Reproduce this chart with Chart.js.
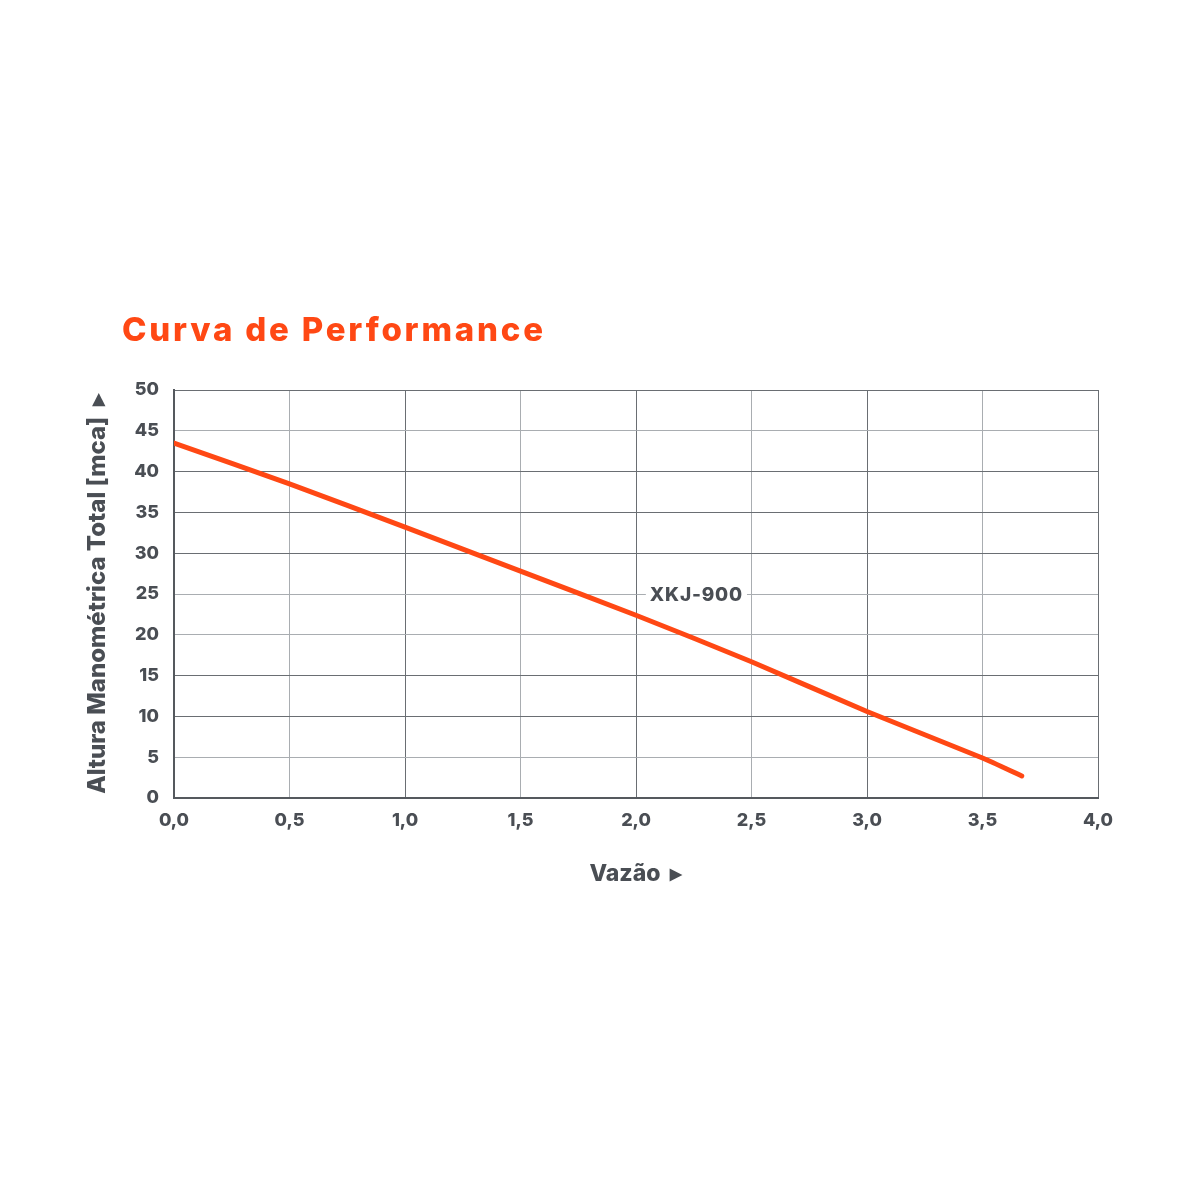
<!DOCTYPE html>
<html>
<head>
<meta charset="utf-8">
<script src="https://cdn.jsdelivr.net/npm/chart.js@4/dist/chart.umd.min.js"></script>
<style>
  html, body { margin: 0; padding: 0; background: #fff; }
  #wrap { width: 1200px; height: 1200px; }
</style>
</head>
<body>
<div id="wrap"><canvas id="curveChart" width="1200" height="1200"></canvas></div>
<script>
// ===================
// Data
// ===================
const flowValues = [0, 0.5, 1.0, 1.5, 2.0, 2.5, 3.0, 3.5, 3.67];
const headValues = [43.5, 38.5, 33.2, 27.8, 22.4, 16.7, 10.6, 4.9, 2.7];
const seriesName = 'XKJ-900';
const labelAt = { x: 2.06, y: 25 };
const lightRows = [45, 25, 20, 5];

const ORANGE = '#ff4814';
const INK = '#4a4e54';
const FONT = 'Inter, "Open Sans", sans-serif';

// title + series tag drawn on the canvas
const extraText = {
  id: 'extraText',
  afterDatasetsDraw(chart) {
    const c = chart.ctx;
    c.save();
    c.font = '800 33px ' + FONT;
    c.letterSpacing = '2.8px';
    c.fillStyle = ORANGE;
    c.textBaseline = 'middle';
    c.textAlign = 'left';
    c.fillText('Curva de Performance', 122, 331);

    const xs = chart.scales.x, ys = chart.scales.y;
    const px = xs.getPixelForValue(labelAt.x);
    const py = ys.getPixelForValue(labelAt.y);
    c.font = '800 19px ' + FONT;
    c.letterSpacing = '0.8px';
    const w = c.measureText(seriesName).width;
    c.fillStyle = '#fff';
    c.fillRect(px - 4, py - 9, w + 8, 18);
    c.fillStyle = INK;
    c.fillText(seriesName, px, py + 1);
    c.letterSpacing = '0px';
    c.restore();
  }
};

const ctx = document.getElementById('curveChart').getContext('2d');

new Chart(ctx, {
  type: 'line',
  data: {
    datasets: [{
      label: seriesName,
      data: flowValues.map((v, i) => ({ x: v, y: headValues[i] })),
      borderColor: ORANGE,
      borderWidth: 5,
      borderCapStyle: 'round',
      pointRadius: 0,
      tension: 0.2,
      fill: false
    }]
  },
  options: {
    responsive: false,
    animation: false,
    layout: { padding: { top: 390, left: 80, right: 102, bottom: 300 } },
    plugins: {
      legend: { display: false },
      tooltip: { enabled: false }
    },
    scales: {
      x: {
        type: 'linear',
        min: 0,
        max: 4,
        afterFit: s => { s.height = 102; },
        border: { color: '#55595e', width: 2 },
        grid: {
          drawTicks: false,
          color: c => (Math.round(c.tick.value * 10) % 10 === 0 ? '#6a6e73' : '#a9adb1'),
          lineWidth: 1
        },
        ticks: {
          stepSize: 0.5,
          padding: 12,
          color: INK,
          font: { family: FONT, size: 18, weight: '800' },
          callback: v => v.toFixed(1).replace('.', ',')
        },
        title: {
          display: true,
          text: 'Vazão  ▸',
          color: INK,
          padding: { top: 0, bottom: 12 },
          font: { family: FONT, size: 23, weight: '800' }
        }
      },
      y: {
        min: 0,
        max: 50,
        border: { color: '#55595e', width: 2 },
        afterFit: s => { s.width = 94; },
        grid: {
          drawTicks: false,
          color: c => (lightRows.includes(c.tick.value) ? '#a9adb1' : '#6a6e73'),
          lineWidth: 1
        },
        ticks: {
          stepSize: 5,
          padding: 15,
          color: INK,
          font: { family: FONT, size: 18, weight: '800' }
        },
        title: {
          display: true,
          text: 'Altura Manométrica Total [mca]  ▸',
          color: INK,
          padding: { top: 3, bottom: 0 },
          font: { family: FONT, size: 24, weight: '800' }
        }
      }
    }
  },
  plugins: [extraText]
});
</script>
</body>
</html>
